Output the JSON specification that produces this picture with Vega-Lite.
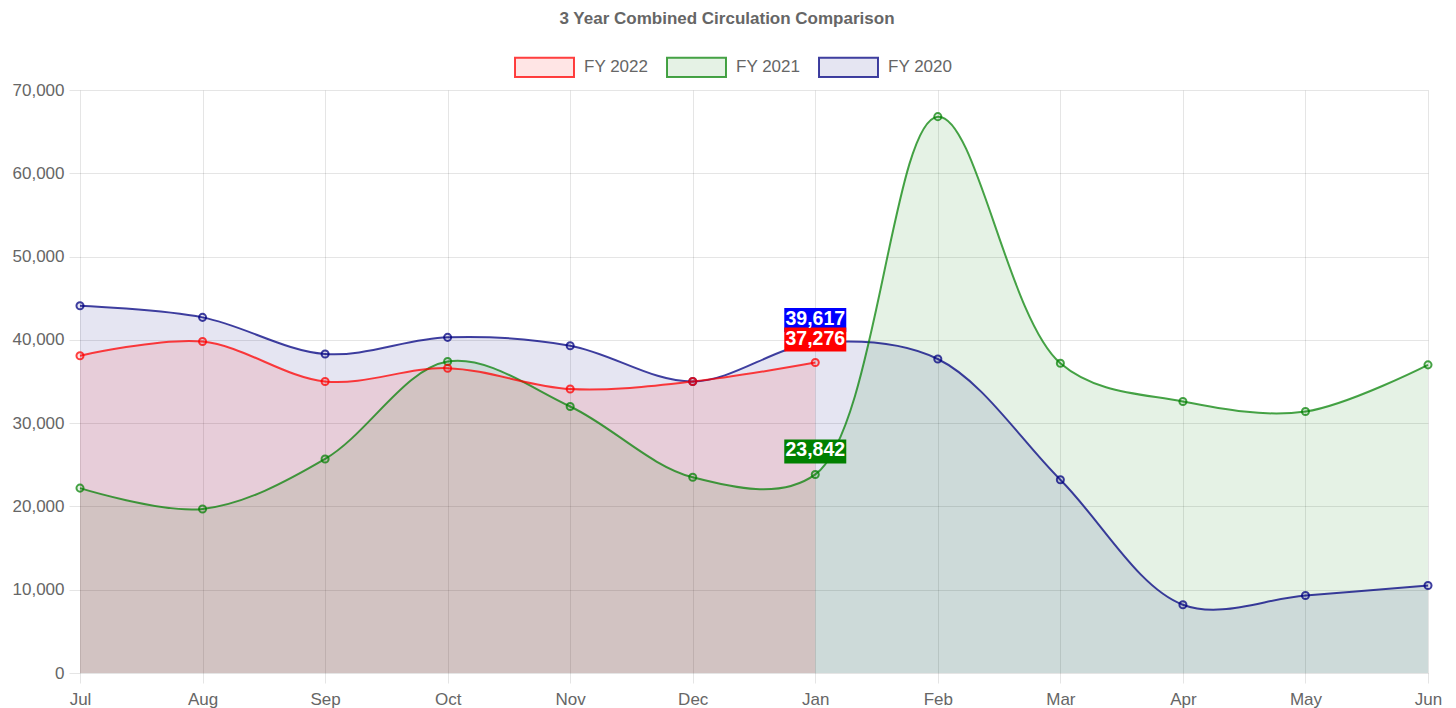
{
  "$schema": "https://vega.github.io/schema/vega-lite/v6.json",
  "width": 1348,
  "height": 583,
  "autosize": {"type": "none"},
  "padding": {"left": 80, "top": 90, "right": 28, "bottom": 35},
  "background": "white",
  "title": {
    "text": "3 Year Combined Circulation Comparison",
    "font": "Liberation Sans",
    "fontSize": 17,
    "fontWeight": "bold",
    "color": "#666666",
    "anchor": "middle",
    "dx": -27,
    "offset": 9
  },
  "config": {
    "view": {"stroke": null},
    "legend": {
      "orient": "none",
      "legendX": 434,
      "legendY": -53.5,
      "direction": "horizontal",
      "title": null,
      "labelFont": "Liberation Sans",
      "labelFontSize": 17,
      "labelColor": "#666666",
      "labelOffset": 9,
      "columnPadding": 14,
      "symbolSize": 3481,
      "symbolStrokeWidth": 2,
      "symbolType": "M-1,-0.33H1V0.33H-1Z"
    },
    "axis": {
      "title": null,
      "grid": true,
      "gridColor": "rgba(0,0,0,0.1)",
      "gridOpacity": 1,
      "domain": false,
      "ticks": true,
      "tickColor": "rgba(0,0,0,0.1)",
      "labelFont": "Liberation Sans",
      "labelFontSize": 17,
      "labelColor": "#666666"
    }
  },
  "datasets": {
    "series": [
      {"series": "FY 2020", "month": "Jul", "idx": 0, "value": 44100},
      {"series": "FY 2020", "month": "Aug", "idx": 1, "value": 42700},
      {"series": "FY 2020", "month": "Sep", "idx": 2, "value": 38300},
      {"series": "FY 2020", "month": "Oct", "idx": 3, "value": 40300},
      {"series": "FY 2020", "month": "Nov", "idx": 4, "value": 39300},
      {"series": "FY 2020", "month": "Dec", "idx": 5, "value": 35000},
      {"series": "FY 2020", "month": "Jan", "idx": 6, "value": 39617},
      {"series": "FY 2020", "month": "Feb", "idx": 7, "value": 37700},
      {"series": "FY 2020", "month": "Mar", "idx": 8, "value": 23200},
      {"series": "FY 2020", "month": "Apr", "idx": 9, "value": 8200},
      {"series": "FY 2020", "month": "May", "idx": 10, "value": 9300},
      {"series": "FY 2020", "month": "Jun", "idx": 11, "value": 10500},
      {"series": "FY 2021", "month": "Jul", "idx": 0, "value": 22200},
      {"series": "FY 2021", "month": "Aug", "idx": 1, "value": 19700},
      {"series": "FY 2021", "month": "Sep", "idx": 2, "value": 25700},
      {"series": "FY 2021", "month": "Oct", "idx": 3, "value": 37400},
      {"series": "FY 2021", "month": "Nov", "idx": 4, "value": 32000},
      {"series": "FY 2021", "month": "Dec", "idx": 5, "value": 23500},
      {"series": "FY 2021", "month": "Jan", "idx": 6, "value": 23842},
      {"series": "FY 2021", "month": "Feb", "idx": 7, "value": 66800},
      {"series": "FY 2021", "month": "Mar", "idx": 8, "value": 37200},
      {"series": "FY 2021", "month": "Apr", "idx": 9, "value": 32600},
      {"series": "FY 2021", "month": "May", "idx": 10, "value": 31400},
      {"series": "FY 2021", "month": "Jun", "idx": 11, "value": 37000},
      {"series": "FY 2022", "month": "Jul", "idx": 0, "value": 38100},
      {"series": "FY 2022", "month": "Aug", "idx": 1, "value": 39800},
      {"series": "FY 2022", "month": "Sep", "idx": 2, "value": 35000},
      {"series": "FY 2022", "month": "Oct", "idx": 3, "value": 36600},
      {"series": "FY 2022", "month": "Nov", "idx": 4, "value": 34100},
      {"series": "FY 2022", "month": "Dec", "idx": 5, "value": 35000},
      {"series": "FY 2022", "month": "Jan", "idx": 6, "value": 37276}
    ],
    "labels": [
      {"series": "FY 2020", "month": "Jan", "value": 39617},
      {"series": "FY 2022", "month": "Jan", "value": 37276},
      {"series": "FY 2021", "month": "Jan", "value": 23842}
    ]
  },
  "data": {"name": "series"},
  "layer": [
    {
      "mark": {"type": "area", "interpolate": "catmull-rom"},
      "encoding": {
        "x": {
          "field": "month",
          "type": "ordinal",
          "sort": ["Jul", "Aug", "Sep", "Oct", "Nov", "Dec", "Jan", "Feb", "Mar", "Apr", "May", "Jun"],
          "scale": {"type": "point", "padding": 0},
          "axis": {"labelAngle": 0, "tickSize": 10, "labelPadding": 8}
        },
        "y": {
          "field": "value",
          "type": "quantitative",
          "stack": null,
          "scale": {"domain": [0, 70000], "nice": false},
          "axis": {
            "values": [0, 10000, 20000, 30000, 40000, 50000, 60000, 70000],
            "format": ",d",
            "tickSize": 11,
            "labelPadding": 5
          }
        },
        "fill": {
          "field": "series",
          "type": "nominal",
          "scale": {
            "domain": ["FY 2022", "FY 2021", "FY 2020"],
            "range": ["rgba(255,0,0,0.1)", "rgba(0,128,0,0.1)", "rgba(0,0,128,0.1)"]
          },
          "legend": {"symbolType": "M-1,-0.33H1V0.33H-1Z", "symbolStrokeWidth": 2}
        }
      }
    },
    {
      "mark": {"type": "line", "interpolate": "catmull-rom", "strokeWidth": 2},
      "encoding": {
        "x": {
          "field": "month",
          "type": "ordinal",
          "sort": ["Jul", "Aug", "Sep", "Oct", "Nov", "Dec", "Jan", "Feb", "Mar", "Apr", "May", "Jun"]
        },
        "y": {"field": "value", "type": "quantitative", "stack": null},
        "stroke": {
          "field": "series",
          "type": "nominal",
          "scale": {
            "domain": ["FY 2022", "FY 2021", "FY 2020"],
            "range": ["rgba(255,0,0,0.75)", "rgba(0,128,0,0.72)", "rgba(0,0,128,0.75)"]
          },
          "legend": {"symbolType": "M-1,-0.33H1V0.33H-1Z", "symbolStrokeWidth": 2}
        }
      }
    },
    {
      "mark": {"type": "circle", "size": 50, "strokeWidth": 2, "opacity": 1},
      "encoding": {
        "x": {
          "field": "month",
          "type": "ordinal",
          "sort": ["Jul", "Aug", "Sep", "Oct", "Nov", "Dec", "Jan", "Feb", "Mar", "Apr", "May", "Jun"]
        },
        "y": {"field": "value", "type": "quantitative"},
        "fill": {"field": "series", "type": "nominal", "legend": null},
        "stroke": {"field": "series", "type": "nominal", "legend": null}
      }
    },
    {
      "data": {"name": "labels"},
      "mark": {"type": "rect", "width": 62, "height": 24, "yOffset": -23},
      "encoding": {
        "x": {
          "field": "month",
          "type": "ordinal",
          "sort": ["Jul", "Aug", "Sep", "Oct", "Nov", "Dec", "Jan", "Feb", "Mar", "Apr", "May", "Jun"]
        },
        "y": {"field": "value", "type": "quantitative"},
        "color": {
          "field": "series",
          "type": "nominal",
          "scale": {
            "domain": ["FY 2022", "FY 2021", "FY 2020"],
            "range": ["#ff0000", "#008000", "#0000ff"]
          },
          "legend": null
        }
      }
    },
    {
      "data": {"name": "labels"},
      "mark": {
        "type": "text",
        "font": "Liberation Sans",
        "fontWeight": "bold",
        "fontSize": 19.5,
        "color": "white",
        "baseline": "alphabetic",
        "align": "center",
        "yOffset": -18
      },
      "encoding": {
        "x": {
          "field": "month",
          "type": "ordinal",
          "sort": ["Jul", "Aug", "Sep", "Oct", "Nov", "Dec", "Jan", "Feb", "Mar", "Apr", "May", "Jun"]
        },
        "y": {"field": "value", "type": "quantitative"},
        "text": {"field": "value", "type": "quantitative", "format": ","}
      }
    }
  ]
}
